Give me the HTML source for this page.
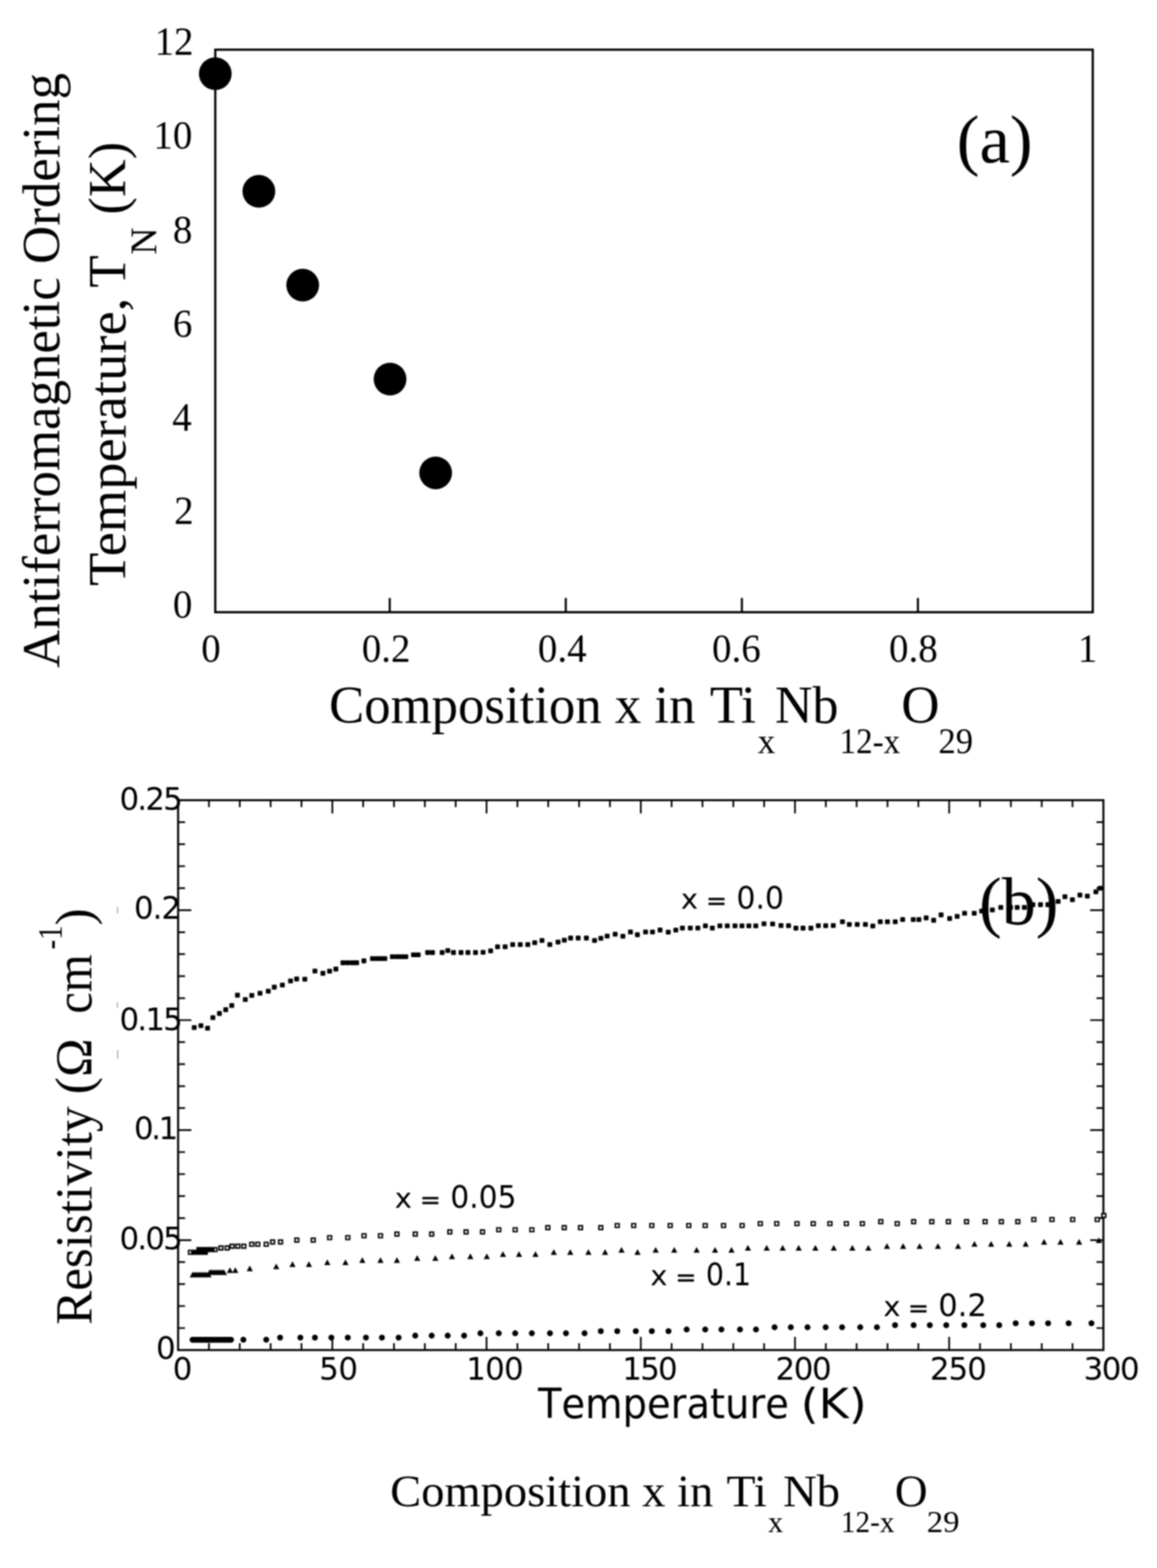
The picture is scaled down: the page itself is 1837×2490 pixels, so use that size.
<!DOCTYPE html>
<html lang="en">
<head>
<meta charset="utf-8">
<title>Antiferromagnetic ordering temperature and resistivity of TixNb12-xO29</title>
<style>
  html, body { margin: 0; padding: 0; background: #fff; }
  body { width: 1837px; height: 2490px; overflow: hidden; }
  svg { display: block; }
  text { white-space: pre; }
  .serif { font-family: "Liberation Serif", "DejaVu Serif", serif; fill: #000; }
  .sans { font-family: "DejaVu Sans", "Liberation Sans", sans-serif; fill: #000; }
  .ax { stroke: #000; fill: none; }
</style>
</head>
<body>
<svg width="1837" height="2490" viewBox="0 0 1837 2490">
<defs><filter id="soft" x="0" y="0" width="1837" height="2490" filterUnits="userSpaceOnUse" color-interpolation-filters="sRGB"><feGaussianBlur stdDeviation="1.2"/></filter></defs>
<rect x="0" y="0" width="1837" height="2490" fill="#ffffff"/>
<g filter="url(#soft)">
<rect x="0" y="0" width="1837" height="2490" fill="#ffffff"/>

<g id="plot-a">
<rect class="ax" x="341.8" y="78.9" width="1393.2" height="893.3" stroke-width="3.5"/>
<line class="ax" x1="618.8" y1="972.2" x2="618.8" y2="949.6" stroke-width="3.3"/>
<line class="ax" x1="898.3" y1="972.2" x2="898.3" y2="949.6" stroke-width="3.3"/>
<line class="ax" x1="1177.9" y1="972.2" x2="1177.9" y2="949.6" stroke-width="3.3"/>
<line class="ax" x1="1457.4" y1="972.2" x2="1457.4" y2="949.6" stroke-width="3.3"/>
<circle cx="341.8" cy="117.0" r="26" fill="#000"/>
<circle cx="411.0" cy="303.8" r="26" fill="#000"/>
<circle cx="480.6" cy="452.8" r="26" fill="#000"/>
<circle cx="619.3" cy="602.0" r="26" fill="#000"/>
<circle cx="691.7" cy="750.9" r="26" fill="#000"/>
<text class="serif" transform="translate(245.4 87.2) scale(0.9660 1)" font-size="64">12</text>
<text class="serif" transform="translate(243.5 235.8) scale(0.9660 1)" font-size="64">10</text>
<text class="serif" transform="translate(274.4 386.4) scale(0.9660 1)" font-size="64">8</text>
<text class="serif" transform="translate(274.4 535.4) scale(0.9660 1)" font-size="64">6</text>
<text class="serif" transform="translate(273.5 683.5) scale(0.9660 1)" font-size="64">4</text>
<text class="serif" transform="translate(276.4 832.2) scale(0.9660 1)" font-size="64">2</text>
<text class="serif" transform="translate(274.4 981.4) scale(0.9660 1)" font-size="64">0</text>
<text class="serif" transform="translate(319.4 1051.2) scale(0.9660 1)" font-size="64">0</text>
<text class="serif" transform="translate(574.4 1051.2) scale(0.9660 1)" font-size="64">0.2</text>
<text class="serif" transform="translate(854.1 1051.2) scale(0.9660 1)" font-size="64">0.4</text>
<text class="serif" transform="translate(1130.6 1051.2) scale(0.9660 1)" font-size="64">0.6</text>
<text class="serif" transform="translate(1411.6 1051.2) scale(0.9660 1)" font-size="64">0.8</text>
<text class="serif" transform="translate(1711.2 1051.2) scale(0.9660 1)" font-size="64">1</text>
<text class="serif" transform="translate(1519.0 258.0) scale(1.0055 1)" font-size="108">(a)</text>
<text class="serif" transform="translate(94.3 1060.6) rotate(-90)" font-size="84">Antiferromagnetic Ordering</text>
<text class="serif" transform="translate(198.7 930.4) rotate(-90) scale(1.0304 1)" font-size="84">Temperature,</text>
<text class="serif" transform="translate(198.7 456.8) rotate(-90)" font-size="84">T</text>
<text class="serif" transform="translate(247.5 404.6) rotate(-90)" font-size="60">N</text>
<text class="serif" transform="translate(198.7 340.7) rotate(-90) scale(0.9881 1)" font-size="84">(K)</text>
<text class="serif" transform="translate(522.4 1147.8) scale(0.9974 1)" font-size="84">Composition x in</text>
<text class="serif" transform="translate(1126.9 1147.8) scale(1.0265 1)" font-size="84">Ti</text>
<text class="serif" x="1203.0" y="1196.2" font-size="56">x</text>
<text class="serif" transform="translate(1230.5 1147.8) scale(0.9816 1)" font-size="84">Nb</text>
<text class="serif" transform="translate(1333.1 1196.2) scale(0.9361 1)" font-size="56">12-x</text>
<text class="serif" x="1431.0" y="1147.8" font-size="84">O</text>
<text class="serif" transform="translate(1490.0 1196.2) scale(0.9808 1)" font-size="56">29</text>
</g>
<g id="plot-b">
<text class="sans" x="189.7" y="1286.0" font-size="49" letter-spacing="-2.90">0.25</text>
<text class="sans" x="212.7" y="1459.0" font-size="49" letter-spacing="-1.60">0.2</text>
<text class="sans" x="189.7" y="1635.5" font-size="49" letter-spacing="-2.90">0.15</text>
<text class="sans" x="212.7" y="1808.5" font-size="49" letter-spacing="-3.85">0.1</text>
<text class="sans" x="189.7" y="1984.0" font-size="49" letter-spacing="-2.90">0.05</text>
<text class="sans" x="247.8" y="2158.3" font-size="49">0</text>
<text class="sans" x="274.2" y="2190.8" font-size="49">0</text>
<text class="sans" x="506.8" y="2190.8" font-size="49" letter-spacing="-0.80">50</text>
<text class="sans" x="740.2" y="2190.8" font-size="49" letter-spacing="-1.10">100</text>
<text class="sans" x="988.0" y="2190.8" font-size="49" letter-spacing="-2.75">150</text>
<text class="sans" x="1231.2" y="2190.8" font-size="49" letter-spacing="-2.10">200</text>
<text class="sans" x="1476.4" y="2190.8" font-size="49" letter-spacing="-1.50">250</text>
<text class="sans" x="1720.5" y="2190.8" font-size="49" letter-spacing="-2.35">300</text>
<rect class="ax" x="282.8" y="1270.7" width="1469.1" height="873.2" stroke-width="3.2"/>
<path class="ax" stroke-width="2.7" d="M331.8 2143.9v-11M331.8 1270.7v11M380.7 2143.9v-11M380.7 1270.7v11M429.7 2143.9v-11M429.7 1270.7v11M478.7 2143.9v-11M478.7 1270.7v11M527.7 2143.9v-21M527.7 1270.7v21M576.6 2143.9v-11M576.6 1270.7v11M625.6 2143.9v-11M625.6 1270.7v11M674.6 2143.9v-11M674.6 1270.7v11M723.5 2143.9v-11M723.5 1270.7v11M772.5 2143.9v-21M772.5 1270.7v21M821.5 2143.9v-11M821.5 1270.7v11M870.4 2143.9v-11M870.4 1270.7v11M919.4 2143.9v-11M919.4 1270.7v11M968.4 2143.9v-11M968.4 1270.7v11M1017.4 2143.9v-21M1017.4 1270.7v21M1066.3 2143.9v-11M1066.3 1270.7v11M1115.3 2143.9v-11M1115.3 1270.7v11M1164.3 2143.9v-11M1164.3 1270.7v11M1213.2 2143.9v-11M1213.2 1270.7v11M1262.2 2143.9v-21M1262.2 1270.7v21M1311.2 2143.9v-11M1311.2 1270.7v11M1360.1 2143.9v-11M1360.1 1270.7v11M1409.1 2143.9v-11M1409.1 1270.7v11M1458.1 2143.9v-11M1458.1 1270.7v11M1507.0 2143.9v-21M1507.0 1270.7v21M1556.0 2143.9v-11M1556.0 1270.7v11M1605.0 2143.9v-11M1605.0 1270.7v11M1654.0 2143.9v-11M1654.0 1270.7v11M1702.9 2143.9v-11M1702.9 1270.7v11M282.8 2109.0h11M1751.9 2109.0h-11M282.8 2074.0h11M1751.9 2074.0h-11M282.8 2039.1h11M1751.9 2039.1h-11M282.8 2004.2h11M1751.9 2004.2h-11M282.8 1969.3h21M1751.9 1969.3h-21M282.8 1934.3h11M1751.9 1934.3h-11M282.8 1899.4h11M1751.9 1899.4h-11M282.8 1864.5h11M1751.9 1864.5h-11M282.8 1829.5h11M1751.9 1829.5h-11M282.8 1794.6h21M1751.9 1794.6h-21M282.8 1759.7h11M1751.9 1759.7h-11M282.8 1724.8h11M1751.9 1724.8h-11M282.8 1689.8h11M1751.9 1689.8h-11M282.8 1654.9h11M1751.9 1654.9h-11M282.8 1620.0h21M1751.9 1620.0h-21M282.8 1585.1h11M1751.9 1585.1h-11M282.8 1550.1h11M1751.9 1550.1h-11M282.8 1515.2h11M1751.9 1515.2h-11M282.8 1480.3h11M1751.9 1480.3h-11M282.8 1445.3h21M1751.9 1445.3h-21M282.8 1410.4h11M1751.9 1410.4h-11M282.8 1375.5h11M1751.9 1375.5h-11M282.8 1340.6h11M1751.9 1340.6h-11M282.8 1305.6h11M1751.9 1305.6h-11"/>
<path id="series-x00" fill="#000" stroke="#000" stroke-width="2.2" stroke-linejoin="round" d="M305.7 1629.1h5.4v5.4h-5.4zM316.3 1626.1h5.4v5.4h-5.4zM326.9 1630.0h5.4v5.4h-5.4zM335.3 1613.3h5.4v5.4h-5.4zM345.7 1606.7h5.4v5.4h-5.4zM355.7 1600.7h5.4v5.4h-5.4zM365.3 1594.0h5.4v5.4h-5.4zM374.3 1577.7h5.4v5.4h-5.4zM386.8 1584.6h5.4v5.4h-5.4zM397.1 1578.0h5.4v5.4h-5.4zM410.1 1574.6h5.4v5.4h-5.4zM423.2 1571.3h5.4v5.4h-5.4zM432.8 1564.9h5.4v5.4h-5.4zM445.6 1561.6h5.4v5.4h-5.4zM458.6 1555.0h5.4v5.4h-5.4zM468.3 1551.9h5.4v5.4h-5.4zM481.3 1552.3h5.4v5.4h-5.4zM497.3 1539.3h5.4v5.4h-5.4zM510.0 1542.9h5.4v5.4h-5.4zM520.6 1539.5h5.4v5.4h-5.4zM530.6 1536.2h5.4v5.4h-5.4zM541.8 1526.2h5.4v5.4h-5.4zM549.3 1526.2h5.4v5.4h-5.4zM556.9 1526.2h5.4v5.4h-5.4zM563.6 1526.2h5.4v5.4h-5.4zM575.1 1523.2h5.4v5.4h-5.4zM588.7 1519.6h5.4v5.4h-5.4zM595.7 1519.6h5.4v5.4h-5.4zM602.3 1519.6h5.4v5.4h-5.4zM608.3 1519.6h5.4v5.4h-5.4zM620.3 1516.5h5.4v5.4h-5.4zM627.9 1516.5h5.4v5.4h-5.4zM634.9 1516.5h5.4v5.4h-5.4zM641.7 1516.5h5.4v5.4h-5.4zM653.8 1513.5h5.4v5.4h-5.4zM661.3 1513.5h5.4v5.4h-5.4zM676.3 1509.9h5.4v5.4h-5.4zM684.0 1509.9h5.4v5.4h-5.4zM699.3 1509.9h5.4v5.4h-5.4zM708.3 1506.8h5.4v5.4h-5.4zM717.3 1509.9h5.4v5.4h-5.4zM729.3 1509.9h5.4v5.4h-5.4zM740.3 1509.9h5.4v5.4h-5.4zM752.3 1509.9h5.4v5.4h-5.4zM764.3 1509.6h5.4v5.4h-5.4zM776.3 1507.3h5.4v5.4h-5.4zM787.3 1500.8h5.4v5.4h-5.4zM799.3 1500.8h5.4v5.4h-5.4zM811.3 1497.3h5.4v5.4h-5.4zM823.3 1497.3h5.4v5.4h-5.4zM835.3 1497.3h5.4v5.4h-5.4zM846.3 1494.3h5.4v5.4h-5.4zM857.8 1490.8h5.4v5.4h-5.4zM870.3 1497.3h5.4v5.4h-5.4zM883.3 1493.3h5.4v5.4h-5.4zM893.3 1490.3h5.4v5.4h-5.4zM903.3 1486.9h5.4v5.4h-5.4zM915.3 1486.9h5.4v5.4h-5.4zM928.3 1486.9h5.4v5.4h-5.4zM941.3 1490.8h5.4v5.4h-5.4zM951.3 1487.3h5.4v5.4h-5.4zM961.3 1483.8h5.4v5.4h-5.4zM974.0 1480.8h5.4v5.4h-5.4zM986.3 1484.1h5.4v5.4h-5.4zM998.3 1477.3h5.4v5.4h-5.4zM1009.3 1481.7h5.4v5.4h-5.4zM1022.3 1477.3h5.4v5.4h-5.4zM1033.3 1477.3h5.4v5.4h-5.4zM1045.3 1474.2h5.4v5.4h-5.4zM1058.3 1477.6h5.4v5.4h-5.4zM1070.3 1474.3h5.4v5.4h-5.4zM1080.8 1471.1h5.4v5.4h-5.4zM1093.3 1471.1h5.4v5.4h-5.4zM1105.3 1471.1h5.4v5.4h-5.4zM1117.3 1467.5h5.4v5.4h-5.4zM1128.3 1471.1h5.4v5.4h-5.4zM1140.3 1467.5h5.4v5.4h-5.4zM1152.0 1467.5h5.4v5.4h-5.4zM1164.3 1467.5h5.4v5.4h-5.4zM1175.3 1467.5h5.4v5.4h-5.4zM1186.3 1467.5h5.4v5.4h-5.4zM1197.3 1467.5h5.4v5.4h-5.4zM1210.3 1464.3h5.4v5.4h-5.4zM1224.0 1464.5h5.4v5.4h-5.4zM1237.3 1467.1h5.4v5.4h-5.4zM1249.3 1467.3h5.4v5.4h-5.4zM1261.0 1471.2h5.4v5.4h-5.4zM1272.3 1471.2h5.4v5.4h-5.4zM1284.8 1471.2h5.4v5.4h-5.4zM1296.6 1467.3h5.4v5.4h-5.4zM1308.3 1467.3h5.4v5.4h-5.4zM1320.3 1467.1h5.4v5.4h-5.4zM1334.9 1461.0h5.4v5.4h-5.4zM1345.8 1465.3h5.4v5.4h-5.4zM1358.3 1465.3h5.4v5.4h-5.4zM1371.3 1465.3h5.4v5.4h-5.4zM1383.1 1467.8h5.4v5.4h-5.4zM1394.9 1461.0h5.4v5.4h-5.4zM1406.3 1461.0h5.4v5.4h-5.4zM1418.7 1461.0h5.4v5.4h-5.4zM1430.5 1457.6h5.4v5.4h-5.4zM1447.3 1457.6h5.4v5.4h-5.4zM1456.3 1457.6h5.4v5.4h-5.4zM1467.8 1454.9h5.4v5.4h-5.4zM1479.7 1458.7h5.4v5.4h-5.4zM1491.5 1450.2h5.4v5.4h-5.4zM1505.1 1455.9h5.4v5.4h-5.4zM1517.0 1452.6h5.4v5.4h-5.4zM1528.8 1447.5h5.4v5.4h-5.4zM1544.1 1447.5h5.4v5.4h-5.4zM1555.9 1444.1h5.4v5.4h-5.4zM1572.9 1442.3h5.4v5.4h-5.4zM1586.3 1438.3h5.4v5.4h-5.4zM1601.7 1438.3h5.4v5.4h-5.4zM1612.3 1438.3h5.4v5.4h-5.4zM1623.7 1438.3h5.4v5.4h-5.4zM1637.3 1433.9h5.4v5.4h-5.4zM1649.3 1433.9h5.4v5.4h-5.4zM1661.0 1433.9h5.4v5.4h-5.4zM1677.3 1428.8h5.4v5.4h-5.4zM1688.1 1421.3h5.4v5.4h-5.4zM1700.0 1426.1h5.4v5.4h-5.4zM1711.9 1418.7h5.4v5.4h-5.4zM1723.7 1420.3h5.4v5.4h-5.4zM1737.3 1413.6h5.4v5.4h-5.4zM1744.1 1407.8h5.4v5.4h-5.4z"/>
<path id="series-x005" fill="#fff" stroke="#000" stroke-width="2.4" d="M299.4 1985.6h6v6h-6zM304.5 1985.6h6v6h-6zM306.8 1985.6h6v6h-6zM309.1 1985.6h6v6h-6zM311.4 1985.6h6v6h-6zM313.7 1985.6h6v6h-6zM316.0 1985.6h6v6h-6zM318.3 1985.6h6v6h-6zM320.6 1985.6h6v6h-6zM322.9 1985.6h6v6h-6zM313.0 1981.4h6v6h-6zM315.3 1981.4h6v6h-6zM317.6 1981.4h6v6h-6zM319.9 1981.4h6v6h-6zM322.2 1981.4h6v6h-6zM324.5 1981.4h6v6h-6zM326.8 1981.4h6v6h-6zM329.1 1981.4h6v6h-6zM331.4 1981.4h6v6h-6zM333.7 1981.4h6v6h-6zM338.4 1981.4h6v6h-6zM347.8 1978.7h6v6h-6zM357.7 1978.7h6v6h-6zM365.5 1976.0h6v6h-6zM374.6 1976.0h6v6h-6zM384.1 1976.0h6v6h-6zM396.7 1972.9h6v6h-6zM406.2 1972.9h6v6h-6zM419.7 1972.9h6v6h-6zM429.9 1969.2h6v6h-6zM442.4 1969.2h6v6h-6zM468.2 1966.2h6v6h-6zM494.3 1966.2h6v6h-6zM520.4 1962.4h6v6h-6zM549.2 1962.4h6v6h-6zM575.0 1959.4h6v6h-6zM601.1 1959.4h6v6h-6zM627.2 1956.7h6v6h-6zM656.3 1956.7h6v6h-6zM682.4 1956.7h6v6h-6zM711.2 1953.3h6v6h-6zM737.0 1953.3h6v6h-6zM763.1 1953.3h6v6h-6zM788.9 1949.9h6v6h-6zM815.0 1949.9h6v6h-6zM841.4 1949.9h6v6h-6zM866.8 1946.5h6v6h-6zM892.9 1946.5h6v6h-6zM918.7 1946.5h6v6h-6zM950.9 1946.5h6v6h-6zM977.0 1943.1h6v6h-6zM1003.1 1943.1h6v6h-6zM1031.9 1943.1h6v6h-6zM1061.1 1943.1h6v6h-6zM1090.6 1943.1h6v6h-6zM1116.7 1943.1h6v6h-6zM1145.8 1943.1h6v6h-6zM1175.3 1943.1h6v6h-6zM1204.1 1940.1h6v6h-6zM1230.2 1940.1h6v6h-6zM1262.4 1940.1h6v6h-6zM1288.2 1940.1h6v6h-6zM1314.7 1940.1h6v6h-6zM1340.8 1940.1h6v6h-6zM1366.2 1940.1h6v6h-6zM1395.4 1937.0h6v6h-6zM1421.5 1940.1h6v6h-6zM1447.6 1937.0h6v6h-6zM1476.4 1937.0h6v6h-6zM1502.8 1937.0h6v6h-6zM1531.6 1937.0h6v6h-6zM1561.1 1937.0h6v6h-6zM1586.9 1937.0h6v6h-6zM1613.0 1937.0h6v6h-6zM1638.4 1933.6h6v6h-6zM1667.2 1933.6h6v6h-6zM1700.1 1933.6h6v6h-6zM1739.1 1933.6h6v6h-6zM1749.6 1927.2h6v6h-6z"/>
<path id="series-x01" fill="#000" d="M306.0 2019.4l4.9 9h-9.8zM308.5 2019.4l4.9 9h-9.8zM311.0 2019.4l4.9 9h-9.8zM313.5 2019.4l4.9 9h-9.8zM316.0 2019.4l4.9 9h-9.8zM318.5 2019.4l4.9 9h-9.8zM321.0 2019.4l4.9 9h-9.8zM323.5 2019.4l4.9 9h-9.8zM326.0 2019.4l4.9 9h-9.8zM328.5 2019.4l4.9 9h-9.8zM331.0 2019.4l4.9 9h-9.8zM333.0 2015.8l4.9 9h-9.8zM335.5 2015.8l4.9 9h-9.8zM338.0 2015.8l4.9 9h-9.8zM340.5 2015.8l4.9 9h-9.8zM343.0 2015.8l4.9 9h-9.8zM345.5 2015.8l4.9 9h-9.8zM348.0 2015.8l4.9 9h-9.8zM350.5 2015.8l4.9 9h-9.8zM353.0 2015.8l4.9 9h-9.8zM355.5 2015.8l4.9 9h-9.8zM365.1 2012.5l4.9 9h-9.8zM373.6 2012.5l4.9 9h-9.8zM396.6 2009.8l4.9 9h-9.8zM438.6 2006.4l4.9 9h-9.8zM464.4 2003.0l4.9 9h-9.8zM490.5 2003.0l4.9 9h-9.8zM519.7 1999.9l4.9 9h-9.8zM548.5 1999.9l4.9 9h-9.8zM575.3 1996.6l4.9 9h-9.8zM604.1 1996.6l4.9 9h-9.8zM630.2 1996.6l4.9 9h-9.8zM662.4 1993.2l4.9 9h-9.8zM691.2 1993.2l4.9 9h-9.8zM717.6 1990.5l4.9 9h-9.8zM746.8 1990.5l4.9 9h-9.8zM772.9 1990.5l4.9 9h-9.8zM798.6 1987.1l4.9 9h-9.8zM824.1 1987.1l4.9 9h-9.8zM850.2 1987.1l4.9 9h-9.8zM879.3 1983.7l4.9 9h-9.8zM905.4 1983.7l4.9 9h-9.8zM934.2 1983.7l4.9 9h-9.8zM960.7 1983.7l4.9 9h-9.8zM986.8 1980.3l4.9 9h-9.8zM1012.2 1983.7l4.9 9h-9.8zM1041.0 1980.3l4.9 9h-9.8zM1070.5 1980.3l4.9 9h-9.8zM1106.1 1980.3l4.9 9h-9.8zM1135.3 1980.3l4.9 9h-9.8zM1161.4 1980.3l4.9 9h-9.8zM1187.5 1976.9l4.9 9h-9.8zM1217.3 1976.9l4.9 9h-9.8zM1242.7 1976.9l4.9 9h-9.8zM1268.1 1976.9l4.9 9h-9.8zM1294.6 1976.9l4.9 9h-9.8zM1323.8 1976.9l4.9 9h-9.8zM1353.3 1976.9l4.9 9h-9.8zM1378.7 1976.9l4.9 9h-9.8zM1408.2 1974.2l4.9 9h-9.8zM1433.9 1974.2l4.9 9h-9.8zM1460.1 1974.2l4.9 9h-9.8zM1489.2 1974.2l4.9 9h-9.8zM1521.1 1974.2l4.9 9h-9.8zM1547.2 1970.8l4.9 9h-9.8zM1573.6 1970.8l4.9 9h-9.8zM1602.4 1970.8l4.9 9h-9.8zM1628.5 1970.8l4.9 9h-9.8zM1657.7 1967.4l4.9 9h-9.8zM1683.8 1967.4l4.9 9h-9.8zM1713.3 1967.4l4.9 9h-9.8zM1744.8 1965.0l4.9 9h-9.8z"/>
<g id="series-x02" fill="#000">
<rect x="301" y="2122.9" width="70.5" height="9.4" rx="4.7"/>
<circle cx="386.4" cy="2127.5" r="4.7"/>
<circle cx="422.7" cy="2127.5" r="4.7"/>
<circle cx="444.7" cy="2124.1" r="4.7"/>
<circle cx="476.9" cy="2124.1" r="4.7"/>
<circle cx="500.0" cy="2124.1" r="4.7"/>
<circle cx="526.1" cy="2124.1" r="4.7"/>
<circle cx="552.2" cy="2124.1" r="4.7"/>
<circle cx="581.0" cy="2124.1" r="4.7"/>
<circle cx="606.4" cy="2124.1" r="4.7"/>
<circle cx="632.9" cy="2124.1" r="4.7"/>
<circle cx="659.3" cy="2121.0" r="4.7"/>
<circle cx="685.4" cy="2121.0" r="4.7"/>
<circle cx="710.8" cy="2121.0" r="4.7"/>
<circle cx="736.9" cy="2121.0" r="4.7"/>
<circle cx="762.7" cy="2117.3" r="4.7"/>
<circle cx="791.9" cy="2117.3" r="4.7"/>
<circle cx="818.0" cy="2117.3" r="4.7"/>
<circle cx="844.4" cy="2117.3" r="4.7"/>
<circle cx="873.2" cy="2117.3" r="4.7"/>
<circle cx="898.6" cy="2117.3" r="4.7"/>
<circle cx="928.1" cy="2117.3" r="4.7"/>
<circle cx="953.9" cy="2113.9" r="4.7"/>
<circle cx="980.0" cy="2113.9" r="4.7"/>
<circle cx="1009.5" cy="2113.9" r="4.7"/>
<circle cx="1034.9" cy="2113.9" r="4.7"/>
<circle cx="1061.4" cy="2113.9" r="4.7"/>
<circle cx="1090.2" cy="2111.2" r="4.7"/>
<circle cx="1119.7" cy="2111.2" r="4.7"/>
<circle cx="1145.4" cy="2111.2" r="4.7"/>
<circle cx="1174.9" cy="2111.2" r="4.7"/>
<circle cx="1200.3" cy="2111.2" r="4.7"/>
<circle cx="1229.8" cy="2107.8" r="4.7"/>
<circle cx="1255.6" cy="2107.8" r="4.7"/>
<circle cx="1282.1" cy="2107.8" r="4.7"/>
<circle cx="1310.9" cy="2107.8" r="4.7"/>
<circle cx="1337.0" cy="2107.8" r="4.7"/>
<circle cx="1365.8" cy="2107.8" r="4.7"/>
<circle cx="1392.3" cy="2107.8" r="4.7"/>
<circle cx="1421.1" cy="2104.4" r="4.7"/>
<circle cx="1450.6" cy="2104.4" r="4.7"/>
<circle cx="1476.3" cy="2104.4" r="4.7"/>
<circle cx="1502.4" cy="2104.4" r="4.7"/>
<circle cx="1531.2" cy="2104.4" r="4.7"/>
<circle cx="1561.1" cy="2104.4" r="4.7"/>
<circle cx="1586.5" cy="2104.4" r="4.7"/>
<circle cx="1612.6" cy="2101.4" r="4.7"/>
<circle cx="1638.4" cy="2101.4" r="4.7"/>
<circle cx="1664.1" cy="2101.4" r="4.7"/>
<circle cx="1696.7" cy="2101.4" r="4.7"/>
<circle cx="1732.9" cy="2101.4" r="4.7"/>
</g>
<path d="M186.6 1441v9M186.4 1592v8M186.8 1668v13" stroke="#9a9a9a" stroke-width="1.6" fill="none" stroke-linecap="round"/>
<text class="sans" transform="translate(1080.9 1443.0) scale(1.0364 1)" font-size="44.5">x</text>
<text class="sans" transform="translate(1121.0 1443.3) scale(1.0417 1)" font-size="38" stroke="#000" stroke-width="0.7">=</text>
<text class="sans" transform="translate(1169.2 1443.0) scale(0.9708 1)" font-size="49">0.0</text>
<text class="sans" transform="translate(626.7 1917.7) scale(1.0364 1)" font-size="44.5">x</text>
<text class="sans" transform="translate(666.7 1918.0) scale(1.0417 1)" font-size="38" stroke="#000" stroke-width="0.7">=</text>
<text class="sans" transform="translate(714.9 1917.7) scale(0.9627 1)" font-size="49">0.05</text>
<text class="sans" transform="translate(1032.4 2040.9) scale(1.0364 1)" font-size="44.5">x</text>
<text class="sans" transform="translate(1072.4 2041.2) scale(1.0417 1)" font-size="38" stroke="#000" stroke-width="0.7">=</text>
<text class="sans" transform="translate(1120.7 2040.9) scale(0.9214 1)" font-size="49">0.1</text>
<text class="sans" transform="translate(1402.4 2089.5) scale(1.0364 1)" font-size="44.5">x</text>
<text class="sans" transform="translate(1441.7 2089.8) scale(1.0417 1)" font-size="38" stroke="#000" stroke-width="0.7">=</text>
<text class="sans" transform="translate(1489.8 2089.5) scale(0.9886 1)" font-size="49">0.2</text>
<text class="serif" x="1554.6" y="1467.6" font-size="108">(b)</text>
<text class="serif" transform="translate(145.0 2103.7) rotate(-90) scale(0.9876 1)" font-size="82">Resistivity</text>
<text class="serif" transform="translate(145.0 1737.8) rotate(-90) scale(1.0050 1)" font-size="82">(Ω</text>
<text class="serif" transform="translate(145.0 1609.8) rotate(-90) scale(0.9406 1)" font-size="82">cm</text>
<text class="serif" transform="translate(98.0 1507.7) rotate(-90) scale(0.8500 1)" font-size="54">-1</text>
<text class="serif" transform="translate(145.0 1469.7) rotate(-90)" font-size="82">)</text>
<text class="sans" transform="translate(854.2 2251.7) scale(0.9321 1)" font-size="65.5" style="font-kerning:none">Temperature</text>
<text class="sans" transform="translate(1271.3 2251.7) scale(1.1159 1)" font-size="65.5" style="font-kerning:none">(K)</text>
<text class="serif" transform="translate(619.5 2391.5) scale(1.0258 1)" font-size="72">Composition x in</text>
<text class="serif" transform="translate(1153.4 2391.5) scale(1.0475 1)" font-size="72">Ti</text>
<text class="serif" x="1219.5" y="2433.2" font-size="48">x</text>
<text class="serif" transform="translate(1243.2 2391.5) scale(1.0277 1)" font-size="72">Nb</text>
<text class="serif" transform="translate(1335.1 2433.2) scale(0.9675 1)" font-size="48">12-x</text>
<text class="serif" x="1420.8" y="2391.5" font-size="72">O</text>
<text class="serif" transform="translate(1471.6 2433.2) scale(1.0795 1)" font-size="48">29</text>
</g>
</g>
</svg>
</body>
</html>
